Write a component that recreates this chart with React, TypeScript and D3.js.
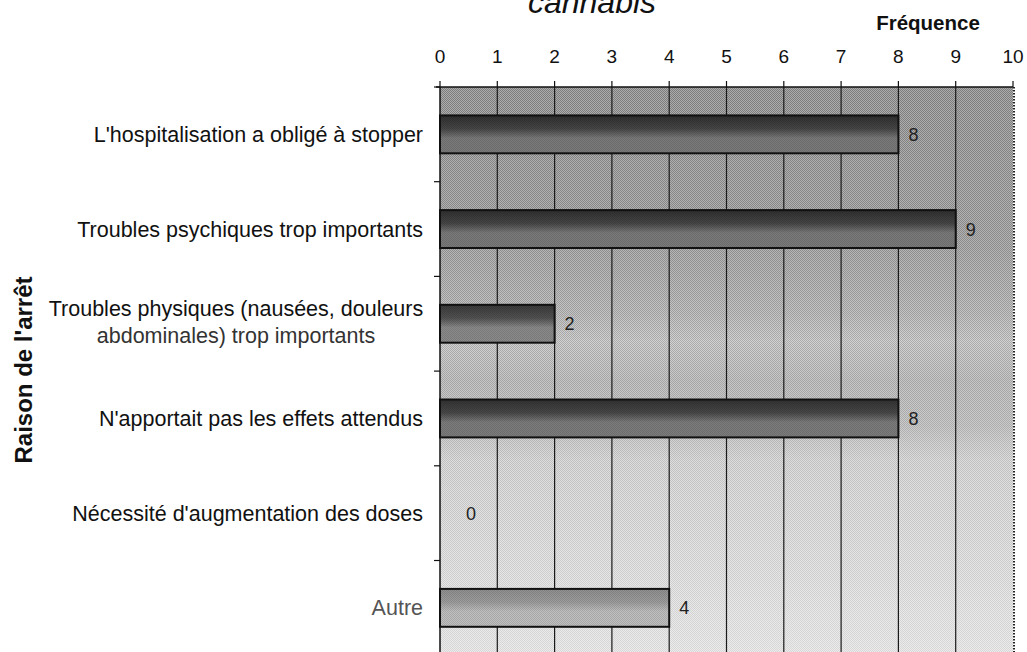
import React, { useEffect } from "react";
import * as d3 from "d3";

// ---- data ----
const categories: string[] = [
  "L'hospitalisation a obligé à stopper",
  "Troubles psychiques trop importants",
  "Troubles physiques (nausées, douleurs\nabdominales) trop importants",
  "N'apportait pas les effets attendus",
  "Nécessité d'augmentation des doses",
  "Autre",
];
const frequencies: number[] = [8, 9, 2, 8, 0, 4];
const xTicks: number[] = [0, 1, 2, 3, 4, 5, 6, 7, 8, 9, 10];
const titleText = "cannabis";
const xAxisTitle = "Fréquence";
const yAxisTitle = "Raison de l'arrêt";

// ---- styles ----
const barTopColors = ["#2f2f2f", "#2f2f2f", "#3a3a3a", "#323232", "#333333", "#8f8f8f"];
const barBottomColors = ["#7a7a7a", "#7a7a7a", "#8a8a8a", "#7c7c7c", "#7a7a7a", "#bfbfbf"];
const labelColors = ["#111", "#111", "#111", "#111", "#111", "#555"];

const W = 1027;
const H = 652;
const FONT = "'Liberation Sans', Arial, Helvetica, sans-serif";

export default function App() {
  useEffect(() => {
    document.body.style.margin = "0";
  }, []);

  const plotLeft = 440;
  const plotRight = 1013;
  const plotTop = 87;
  const step = 94.7;
  const plotBottom = plotTop + step * categories.length;

  const x = d3.scaleLinear().domain([0, 10]).range([plotLeft, plotRight]);
  const y = d3
    .scaleBand<string>()
    .domain(categories)
    .range([plotTop, plotBottom])
    .paddingInner(0.6)
    .paddingOuter(0.3);

  const bw = y.bandwidth();
  const st = y.step();
  const boundaries = d3.range(0, categories.length + 1).map((k) => plotTop + k * st);

  return (
    <svg
      width={W}
      height={H}
      style={{ position: "absolute", left: 0, top: 0, background: "#fff" }}
      fontFamily={FONT}
    >
      <defs>
        <linearGradient id="bg" gradientUnits="userSpaceOnUse" x1="0" y1={plotTop} x2="0" y2={H}>
          <stop offset="0" stopColor="#acacac" />
          <stop offset="0.28" stopColor="#b3b3b3" />
          <stop offset="0.4" stopColor="#c4c4c4" />
          <stop offset="0.45" stopColor="#d2d2d2" />
          <stop offset="0.52" stopColor="#c6c6c6" />
          <stop offset="0.6" stopColor="#cbcbcb" />
          <stop offset="0.66" stopColor="#dedede" />
          <stop offset="1" stopColor="#ebebeb" />
        </linearGradient>
        <pattern id="stip" width="2" height="2" patternUnits="userSpaceOnUse">
          <rect x="0" y="0" width="1" height="1" fill="#000" />
          <rect x="1" y="1" width="1" height="1" fill="#000" />
        </pattern>
        <linearGradient id="stipFade" x1="0" y1="0" x2="0" y2="1">
          <stop offset="0" stopColor="#fff" stopOpacity="0.28" />
          <stop offset="0.6" stopColor="#fff" stopOpacity="0.15" />
          <stop offset="1" stopColor="#fff" stopOpacity="0.08" />
        </linearGradient>
        <mask id="stipMask">
          <rect x={plotLeft} y={plotTop} width={plotRight - plotLeft} height={H - plotTop} fill="url(#stipFade)" />
        </mask>
        {categories.map((c, i) => (
          <linearGradient key={c} id={`bar${i}`} x1="0" y1="0" x2="0" y2="1">
            <stop offset="0" stopColor={barTopColors[i]} />
            <stop offset="0.35" stopColor={d3.interpolateRgb(barTopColors[i], barBottomColors[i])(0.3)} />
            <stop offset="0.6" stopColor={barBottomColors[i]} />
            <stop offset="1" stopColor={barBottomColors[i]} />
          </linearGradient>
        ))}
      </defs>

      {/* title (partially cut) */}
      <text x={592} y={13} textAnchor="middle" fontSize={32} fontStyle="italic" fill="#111">
        {titleText}
      </text>

      {/* plot background */}
      <rect x={plotLeft} y={plotTop} width={plotRight - plotLeft} height={H - plotTop} fill="url(#bg)" />
      <rect
        x={plotLeft}
        y={plotTop}
        width={plotRight - plotLeft}
        height={H - plotTop}
        fill="url(#stip)"
        mask="url(#stipMask)"
      />

      {/* gridlines */}
      {xTicks.slice(1, -1).map((t) => (
        <line key={t} x1={x(t)} x2={x(t)} y1={plotTop} y2={H} stroke="#1a1a1a" strokeWidth={1.2} />
      ))}
      <line
        x1={x(10) + 1}
        x2={x(10) + 1}
        y1={plotTop}
        y2={H}
        stroke="#222"
        strokeWidth={2}
        strokeDasharray="1.5 1.5"
      />

      {/* bars */}
      {categories.map((c, i) =>
        frequencies[i] > 0 ? (
          <g key={c}>
            <rect
              x={x(0)}
              y={y(c)!}
              width={x(frequencies[i]) - x(0)}
              height={bw}
              fill={`url(#bar${i})`}
            />
            <rect
              x={x(0)}
              y={y(c)!}
              width={x(frequencies[i]) - x(0)}
              height={bw}
              fill="url(#stip)"
              opacity={0.12}
            />
            <rect
              x={x(0)}
              y={y(c)!}
              width={x(frequencies[i]) - x(0)}
              height={bw}
              fill="none"
              stroke="#111"
              strokeWidth={2}
            />
          </g>
        ) : null
      )}

      {/* value labels */}
      {categories.map((c, i) => (
        <text
          key={c}
          x={Math.max(x(frequencies[i]), x(0) + 16) + 10}
          y={y(c)! + bw / 2}
          dy="0.36em"
          fontSize={18}
          fill="#222"
        >
          {frequencies[i]}
        </text>
      ))}

      {/* top axis */}
      <line x1={plotLeft - 4} x2={plotRight} y1={plotTop} y2={plotTop} stroke="#111" strokeWidth={1.5} />
      {xTicks.map((t) => (
        <g key={t}>
          <line x1={x(t)} x2={x(t)} y1={plotTop - 6} y2={plotTop} stroke="#111" strokeWidth={1.2} />
          <text x={x(t)} y={63} textAnchor="middle" fontSize={19} fill="#111">
            {t}
          </text>
        </g>
      ))}
      <text x={928} y={30} textAnchor="middle" fontSize={20.5} fontWeight="bold" fill="#111">
        {xAxisTitle}
      </text>

      {/* left axis */}
      <line x1={plotLeft} x2={plotLeft} y1={plotTop} y2={H} stroke="#111" strokeWidth={1.5} />
      {boundaries.map((b) => (
        <line key={b} x1={plotLeft - 6} x2={plotLeft} y1={b} y2={b} stroke="#111" strokeWidth={1.2} />
      ))}

      {/* category labels */}
      {categories.map((c, i) => {
        const lines = c.split("\n");
        const cy = y(c)! + bw / 2;
        if (lines.length === 1) {
          return (
            <text key={c} x={423} y={cy} dy="0.35em" textAnchor="end" fontSize={21.5} fill={labelColors[i]}>
              {c}
            </text>
          );
        }
        return (
          <text key={c} textAnchor="middle" fontSize={21.5} fill={labelColors[i]}>
            <tspan x={236} y={cy - 8}>
              {lines[0]}
            </tspan>
            <tspan x={236} y={cy + 19} fill="#333">
              {lines[1]}
            </tspan>
          </text>
        );
      })}

      {/* y axis title */}
      <text
        transform={`translate(32, 370) rotate(-90)`}
        textAnchor="middle"
        fontSize={24}
        fontWeight="bold"
        fill="#111"
      >
        {yAxisTitle}
      </text>
    </svg>
  );
}
